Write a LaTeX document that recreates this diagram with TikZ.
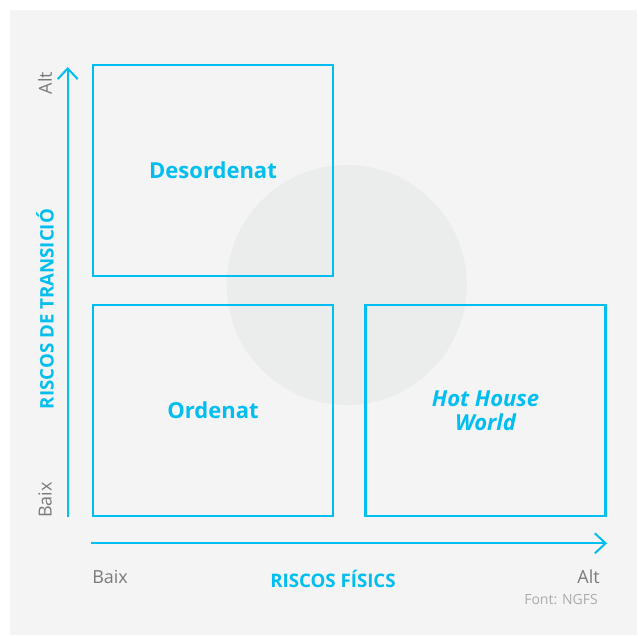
\documentclass[tikz,border=0pt]{standalone}
\usepackage{fontspec}
\setmainfont{Open Sans}
\usetikzlibrary{arrows.meta}
\definecolor{ngfscyan}{HTML}{00BEF0}
\definecolor{bggray}{HTML}{F4F4F4}
\definecolor{blobgray}{HTML}{EBECEC}
\definecolor{axisgray}{HTML}{7A7A7A}
\definecolor{srcgray}{HTML}{ABABAB}
\tikzset{
  quad/.style={draw=ngfscyan,line width=1.6pt,minimum width=180pt,minimum height=158.25pt,
    text=ngfscyan,font=\fontsize{16.5}{18}\selectfont\bfseries,align=center,inner sep=0pt},
  axisline/.style={draw=ngfscyan,line width=1.5pt,-{Straight Barb[length=8pt,width=15pt,line width=1.5pt]}},
  endlabel/.style={text=axisgray,font=\fontsize{13.5}{15}\selectfont,inner sep=0pt},
  axistitle/.style={text=ngfscyan,font=\fontsize{14}{15}\selectfont\bfseries,inner sep=0pt}
}
\begin{document}
\begin{tikzpicture}[x=0.75pt,y=-0.75pt]
\useasboundingbox (0,0) rectangle (638,635);
\fill[bggray] (10,10) rectangle (637,635);
% grey blob behind the quadrants
\fill[blobgray] (346.7,285) circle (120);
% quadrants
\node[quad] (desordenat) at (213,170.5) {Desordenat};
\node[quad] (ordenat) at (213,410.5) {Ordenat};
\node[quad] (hothouse) at (485.5,410.5) {\itshape Hot House\\[0pt]\itshape World};
% axes
\coordinate (yorig) at (67.7,517);
\coordinate (ytop) at (67.7,67);
\coordinate (xorig) at (91,543.3);
\coordinate (xend) at (607,543.3);
\draw[axisline] (yorig) -- (ytop);
\draw[axisline] (xorig) -- (xend);
% axis labels
\node[endlabel,rotate=90] (ylow) at (45,500) {Baix};
\node[endlabel,rotate=90] (yhigh) at (45,83) {Alt};
\node[axistitle,rotate=90] (ytitle) at (45,309) {RISCOS DE TRANSICIÓ};
\node[endlabel,anchor=base west] (xlow) at (92,583) {Baix};
\node[endlabel,anchor=base east] (xhigh) at (600,583) {Alt};
\node[axistitle,anchor=base] (xtitle) at (333,587) {RISCOS FÍSICS};
\node[text=srcgray,font=\fontsize{10.5}{12}\selectfont,inner sep=0pt,anchor=base east] (source) at (598,604) {Font: NGFS};
\end{tikzpicture}
\end{document}
